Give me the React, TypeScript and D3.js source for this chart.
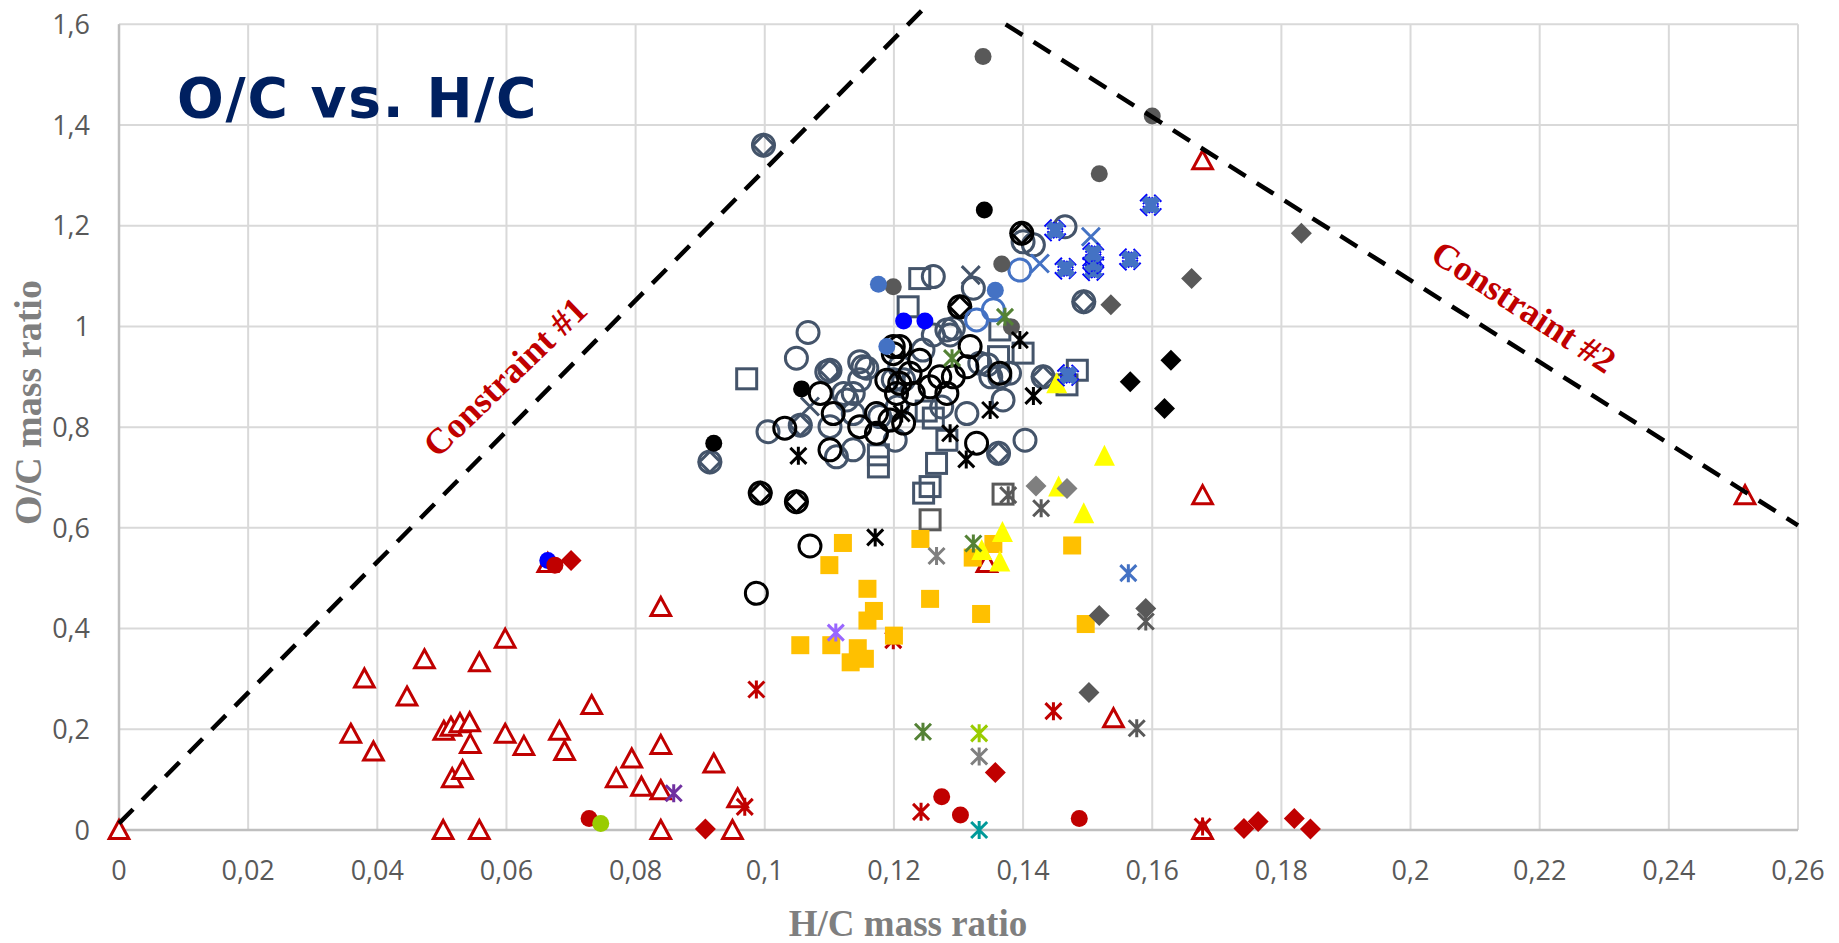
import React from 'react';
import * as d3 from 'd3';

type Pt = [number, number];

// ---------- axis ticks ----------
const xTicks = [0, 0.02, 0.04, 0.06, 0.08, 0.1, 0.12, 0.14, 0.16, 0.18, 0.2, 0.22, 0.24, 0.26];
const xTickLabels = ['0', '0,02', '0,04', '0,06', '0,08', '0,1', '0,12', '0,14', '0,16', '0,18', '0,2', '0,22', '0,24', '0,26'];
const yTicks = [0, 0.2, 0.4, 0.6, 0.8, 1, 1.2, 1.4, 1.6];
const yTickLabels = ['0', '0,2', '0,4', '0,6', '0,8', '1', '1,2', '1,4', '1,6'];

const titleText = 'O/C vs. H/C';
const xTitle = 'H/C mass ratio';
const yTitle = 'O/C mass ratio';
const constraint1Label = 'Constraint #1';
const constraint2Label = 'Constraint #2';

// ---------- constraint lines ----------
const constraint1: Pt[] = [[0, 0.013], [0.125, 1.636]];
const constraint2: Pt[] = [[0.1373, 1.6], [0.26, 0.605]];

// ---------- data series ----------
const redTriangles: Pt[] = [
  [0, 0], [0.0359, 0.191], [0.038, 0.301], [0.0394, 0.156], [0.0446, 0.265], [0.0473, 0.339],
  [0.0502, 0], [0.0503, 0.197], [0.0514, 0.205], [0.0516, 0.103], [0.0528, 0.212], [0.0532, 0.119],
  [0.0543, 0.214], [0.0544, 0.171], [0.0558, 0.333], [0.0558, 0], [0.0598, 0.38], [0.0598, 0.191],
  [0.0627, 0.167], [0.0664, 0.53], [0.0682, 0.197], [0.069, 0.157], [0.0732, 0.248], [0.0770, 0.103],
  [0.0794, 0.142], [0.0809, 0.086], [0.0839, 0.443], [0.0839, 0.169], [0.0839, 0.079], [0.0839, 0],
  [0.0921, 0.132], [0.095, 0], [0.0958, 0.063], [0.1344, 0.53], [0.154, 0.222], [0.1678, 1.33],
  [0.1678, 0.665], [0.1678, 0], [0.2518, 0.665],
];
const slateCircles: Pt[] = [
  [0.0915, 0.731], [0.0998, 1.36], [0.1005, 0.791], [0.1049, 0.937], [0.1055, 0.804], [0.1067, 0.988],
  [0.1096, 0.91], [0.1101, 0.913], [0.1101, 0.801], [0.1111, 0.741], [0.1122, 0.867], [0.1127, 0.854],
  [0.1137, 0.867], [0.1137, 0.827], [0.1137, 0.755], [0.1147, 0.93], [0.1147, 0.894], [0.1152, 0.92],
  [0.1158, 0.917], [0.1178, 0.821], [0.1199, 0.894], [0.1202, 0.774], [0.1205, 0.84], [0.1209, 0.92],
  [0.1215, 0.894], [0.1245, 0.953], [0.1261, 0.983], [0.1261, 1.099], [0.1274, 0.84], [0.1282, 0.993],
  [0.1287, 0.983], [0.1292, 0.996], [0.1313, 0.827], [0.1323, 1.076], [0.1333, 0.927], [0.1345, 0.924],
  [0.135, 0.9], [0.1362, 0.748], [0.1364, 0.9], [0.1369, 0.854], [0.1379, 0.907], [0.14, 1.168],
  [0.1403, 0.774], [0.1416, 1.162], [0.1431, 0.9], [0.1465, 1.198], [0.1494, 1.049],
];
const slateDiamonds: Pt[] = [
  [0.0915, 0.731], [0.0998, 1.36], [0.1055, 0.804], [0.1101, 0.913], [0.1362, 0.748], [0.1431, 0.9], [0.1494, 1.049],
];
const slateSquares: Pt[] = [
  [0.0972, 0.896], [0.1176, 0.721], [0.1176, 0.745], [0.1222, 1.039], [0.124, 1.095], [0.1246, 0.669],
  [0.1250, 0.832], [0.1256, 0.682], [0.1261, 0.818], [0.1266, 0.728], [0.1282, 0.774], [0.1362, 0.94],
  [0.1364, 0.993], [0.14, 0.947], [0.1468, 0.884], [0.1484, 0.913],
];
const slateCrosses: Pt[] = [[0.107, 0.841], [0.1319, 1.102]];
const blackOpenCircles: Pt[] = [
  [0.0987, 0.47], [0.0993, 0.669], [0.1031, 0.798], [0.1049, 0.652], [0.107, 0.564], [0.1086, 0.867],
  [0.1101, 0.755], [0.1106, 0.827], [0.1147, 0.801], [0.1173, 0.788], [0.1173, 0.827], [0.1189, 0.893],
  [0.1194, 0.814], [0.1199, 0.946], [0.1199, 0.96], [0.1204, 0.867], [0.1209, 0.887], [0.1209, 0.96],
  [0.1215, 0.808], [0.1225, 0.907], [0.123, 0.867], [0.124, 0.933], [0.1256, 0.88], [0.1271, 0.9],
  [0.1282, 0.867], [0.1292, 0.9], [0.1302, 1.039], [0.1313, 0.92], [0.1318, 0.96], [0.1328, 0.768],
  [0.1364, 0.907], [0.1398, 1.185],
];
const blackOpenDiamonds: Pt[] = [[0.0993, 0.669], [0.1049, 0.652], [0.1302, 1.039], [0.1398, 1.185]];
const blueOpenCircles: Pt[] = [[0.1328, 1.013], [0.1354, 1.033], [0.1395, 1.112]];
const darkGraySquares: Pt[] = [[0.1256, 0.616], [0.1369, 0.667]];
const redStars: Pt[] = [[0.0969, 0.046], [0.0987, 0.279], [0.1199, 0.377], [0.1242, 0.036], [0.1447, 0.236], [0.1678, 0.007]];
const orangeSquares: Pt[] = [
  [0.1055, 0.367], [0.1103, 0.367], [0.11, 0.526], [0.1121, 0.57], [0.1133, 0.333], [0.1144, 0.361],
  [0.1155, 0.34], [0.1159, 0.479], [0.1159, 0.416], [0.1169, 0.435], [0.12, 0.386], [0.1241, 0.578],
  [0.1256, 0.459], [0.1322, 0.541], [0.1335, 0.429], [0.1354, 0.568], [0.1476, 0.565], [0.1497, 0.409],
];
const yellowTriangles: Pt[] = [
  [0.1336, 0.556], [0.1364, 0.533], [0.1368, 0.592], [0.1452, 0.887], [0.1455, 0.682], [0.1494, 0.629], [0.1526, 0.743],
];
const blackDots: Pt[] = [[0.0921, 0.768], [0.1057, 0.876], [0.134, 1.231]];
const darkGrayDots: Pt[] = [[0.1199, 1.079], [0.1338, 1.536], [0.1367, 1.124], [0.1382, 0.999], [0.1518, 1.303], [0.16, 1.418]];
const midBlueDots: Pt[] = [[0.1176, 1.084], [0.1189, 0.96], [0.1357, 1.072]];
const blueDots: Pt[] = [[0.0664, 0.535], [0.1215, 1.011], [0.1248, 1.011]];
const redDots: Pt[] = [[0.0675, 0.526], [0.0728, 0.023], [0.1274, 0.066], [0.1303, 0.03], [0.1487, 0.023]];
const limeDots: Pt[] = [[0.0746, 0.013]];
const redDiamonds: Pt[] = [[0.07, 0.535], [0.0908, 0.002], [0.1357, 0.114], [0.1742, 0.003], [0.1764, 0.017], [0.182, 0.023], [0.1845, 0.002]];
const blackDiamonds: Pt[] = [[0.1566, 0.89], [0.1619, 0.837], [0.1629, 0.933]];
const darkGrayDiamonds: Pt[] = [[0.1502, 0.273], [0.1518, 0.426], [0.1536, 1.043], [0.159, 0.44], [0.1661, 1.095], [0.1831, 1.185]];
const grayDiamonds: Pt[] = [[0.142, 0.683], [0.1468, 0.678]];
const blackStars: Pt[] = [[0.1052, 0.743], [0.1171, 0.581], [0.1212, 0.827], [0.1287, 0.788], [0.1312, 0.736], [0.1349, 0.834], [0.1395, 0.973], [0.1416, 0.862]];
const darkGrayStars: Pt[] = [[0.1377, 0.665], [0.1428, 0.639], [0.159, 0.414], [0.1576, 0.202]];
const grayStars: Pt[] = [[0.1266, 0.544], [0.1332, 0.146]];
const greenStars: Pt[] = [[0.1245, 0.195], [0.1323, 0.569], [0.1372, 1.019], [0.129, 0.937]];
const limeStars: Pt[] = [[0.1332, 0.192]];
const tealStars: Pt[] = [[0.1332, 0]];
const purpleStars: Pt[] = [[0.0859, 0.073]];
const lavenderStars: Pt[] = [[0.111, 0.392]];
const blueStars: Pt[] = [[0.1563, 0.51]];
const blueCrosses: Pt[] = [[0.1426, 1.125], [0.1505, 1.178]];
const blueHeavyCrosses: Pt[] = [[0.145, 1.191], [0.1466, 1.115], [0.147, 0.903], [0.1509, 1.112], [0.1509, 1.125], [0.1509, 1.145], [0.1566, 1.133], [0.1598, 1.241]];

type Kind = 'triOpen' | 'triFill' | 'circle' | 'dot' | 'square' | 'squareFill' | 'diamond' | 'diamondFill' | 'star' | 'cross' | 'heavyCross';

interface Series { data: Pt[]; kind: Kind; color: string; }

const seriesList: Series[] = [
  { data: redTriangles, kind: 'triOpen', color: '#c00000' },
  { data: slateSquares, kind: 'square', color: '#44546a' },
  { data: slateCircles, kind: 'circle', color: '#44546a' },
  { data: slateDiamonds, kind: 'diamond', color: '#44546a' },
  { data: slateCrosses, kind: 'cross', color: '#44546a' },
  { data: blackOpenCircles, kind: 'circle', color: '#000000' },
  { data: blackOpenDiamonds, kind: 'diamond', color: '#000000' },
  { data: blueOpenCircles, kind: 'circle', color: '#4472c4' },
  { data: darkGraySquares, kind: 'square', color: '#595959' },
  { data: redStars, kind: 'star', color: '#c00000' },
  { data: orangeSquares, kind: 'squareFill', color: '#ffc000' },
  { data: yellowTriangles, kind: 'triFill', color: '#ffff00' },
  { data: blackDots, kind: 'dot', color: '#000000' },
  { data: darkGrayDots, kind: 'dot', color: '#595959' },
  { data: midBlueDots, kind: 'dot', color: '#4472c4' },
  { data: blueDots, kind: 'dot', color: '#0000ff' },
  { data: redDots, kind: 'dot', color: '#c00000' },
  { data: limeDots, kind: 'dot', color: '#99cc00' },
  { data: redDiamonds, kind: 'diamondFill', color: '#c00000' },
  { data: blackDiamonds, kind: 'diamondFill', color: '#000000' },
  { data: darkGrayDiamonds, kind: 'diamondFill', color: '#595959' },
  { data: grayDiamonds, kind: 'diamondFill', color: '#7f7f7f' },
  { data: blackStars, kind: 'star', color: '#000000' },
  { data: darkGrayStars, kind: 'star', color: '#595959' },
  { data: grayStars, kind: 'star', color: '#7f7f7f' },
  { data: greenStars, kind: 'star', color: '#548235' },
  { data: limeStars, kind: 'star', color: '#99cc00' },
  { data: tealStars, kind: 'star', color: '#009999' },
  { data: purpleStars, kind: 'star', color: '#7030a0' },
  { data: lavenderStars, kind: 'star', color: '#9966ff' },
  { data: blueStars, kind: 'star', color: '#4472c4' },
  { data: blueCrosses, kind: 'cross', color: '#4472c4' },
  { data: blueHeavyCrosses, kind: 'heavyCross', color: '#4472c4' },
];

const W = 1839;
const H = 943;

function Marker({ kind, cx, cy, color }: { kind: Kind; cx: number; cy: number; color: string }) {
  const t = `translate(${cx},${cy})`;
  switch (kind) {
    case 'triOpen':
      return <path transform={t} d="M0,-9.5L9.8,8.5L-9.8,8.5Z" fill="#fff" stroke={color} strokeWidth={3} />;
    case 'triFill':
      return <path transform={t} d="M0,-11L10.5,10L-10.5,10Z" fill={color} />;
    case 'circle':
      return <circle cx={cx} cy={cy} r={11} fill="none" stroke={color} strokeWidth={3} />;
    case 'dot':
      return <circle cx={cx} cy={cy} r={8.5} fill={color} />;
    case 'square':
      return <rect x={cx - 10} y={cy - 10} width={20} height={20} fill="none" stroke={color} strokeWidth={3} />;
    case 'squareFill':
      return <rect x={cx - 9} y={cy - 9} width={18} height={18} fill={color} />;
    case 'diamond':
      return <path transform={t} d="M0,-10.5L10.5,0L0,10.5L-10.5,0Z" fill="none" stroke={color} strokeWidth={3} />;
    case 'diamondFill':
      return <path transform={t} d="M0,-10.5L10.5,0L0,10.5L-10.5,0Z" fill={color} />;
    case 'star':
      return <path transform={t} d="M-8,-8L8,8M-8,8L8,-8M0,-9L0,9" fill="none" stroke={color} strokeWidth={3} />;
    case 'cross':
      return <path transform={t} d="M-9,-9L9,9M-9,9L9,-9" fill="none" stroke={color} strokeWidth={3} />;
    case 'heavyCross':
      return (
        <g transform={t}>
          <path d="M-8,-8L8,8M-8,8L8,-8" fill="none" stroke="#0000ff" strokeWidth={10} strokeDasharray="2,2" />
          <path d="M-7,-7L7,7M-7,7L7,-7M0,-7L0,7" fill="none" stroke={color} strokeWidth={7} />
        </g>
      );
  }
  return null;
}

export default function App() {
  const x = d3.scaleLinear().domain([0, 0.26]).range([119, 1798]);
  const y = d3.scaleLinear().domain([0, 1.6]).range([830, 24.3]);
  const line = d3.line<Pt>().x((d) => x(d[0])).y((d) => y(d[1]));

  const sansTick = "'Open Sans', 'Liberation Sans', sans-serif";
  const serif = "'Liberation Serif', 'Times New Roman', serif";

  return (
    <div style={{ position: 'absolute', left: 0, top: 0 }}>
      <style>{'body{margin:0}'}</style>
      <svg width={W} height={H} viewBox={`0 0 ${W} ${H}`} style={{ display: 'block', background: '#fff' }}>
        <rect x={0} y={0} width={W} height={H} fill="#fff" />
        {/* gridlines */}
        {xTicks.map((t, i) => (
          <line key={'gx' + i} x1={x(t)} x2={x(t)} y1={y(0)} y2={y(1.6)} stroke="#d9d9d9" strokeWidth={2} />
        ))}
        {yTicks.map((t, i) => (
          <line key={'gy' + i} x1={x(0)} x2={x(0.26)} y1={y(t)} y2={y(t)} stroke="#d9d9d9" strokeWidth={2} />
        ))}
        {/* axes */}
        <line x1={x(0)} x2={x(0)} y1={y(0)} y2={y(1.6)} stroke="#bfbfbf" strokeWidth={2.5} />
        <line x1={x(0)} x2={x(0.26)} y1={y(0)} y2={y(0)} stroke="#bfbfbf" strokeWidth={2.5} />
        {/* tick labels */}
        {xTicks.map((t, i) => (
          <text key={'tx' + i} x={x(t)} y={880} textAnchor="middle" fontFamily={sansTick} fontSize={27} fill="#595959">
            {xTickLabels[i]}
          </text>
        ))}
        {yTicks.map((t, i) => (
          <text key={'ty' + i} x={90} y={y(t)} dy="0.36em" textAnchor="end" fontFamily={sansTick} fontSize={27} fill="#595959">
            {yTickLabels[i]}
          </text>
        ))}
        {/* axis titles */}
        <text x={908} y={936} textAnchor="middle" fontFamily={serif} fontWeight="bold" fontSize={37} fill="#7f7f7f">
          {xTitle}
        </text>
        <text transform={`translate(41,402.5) rotate(-90)`} textAnchor="middle" fontFamily={serif} fontWeight="bold" fontSize={38} fill="#7f7f7f">
          {yTitle}
        </text>
        {/* markers */}
        {seriesList.map((s, si) => (
          <g key={'s' + si}>
            {s.data.map((d, i) => (
              <Marker key={i} kind={s.kind} cx={x(d[0])} cy={y(d[1])} color={s.color} />
            ))}
          </g>
        ))}
        {/* constraint lines */}
        <path d={line(constraint1) || ''} fill="none" stroke="#000" strokeWidth={4.5} strokeDasharray="20,13" />
        <path d={line(constraint2) || ''} fill="none" stroke="#000" strokeWidth={4.5} strokeDasharray="20,13" />
        <text transform="translate(506,378) rotate(-44)" dy="0.3em" textAnchor="middle" fontFamily={serif} fontWeight="bold" fontSize={36} fill="#c00000">
          {constraint1Label}
        </text>
        <text transform="translate(1523,308) rotate(33)" dy="0.3em" textAnchor="middle" fontFamily={serif} fontWeight="bold" fontSize={36} fill="#c00000">
          {constraint2Label}
        </text>
        {/* title */}
        <text x={177} y={117} fontFamily="'DejaVu Sans', Verdana, sans-serif" fontWeight="bold" fontSize={55} letterSpacing={1.8} fill="#002060">
          {titleText}
        </text>
      </svg>
    </div>
  );
}
